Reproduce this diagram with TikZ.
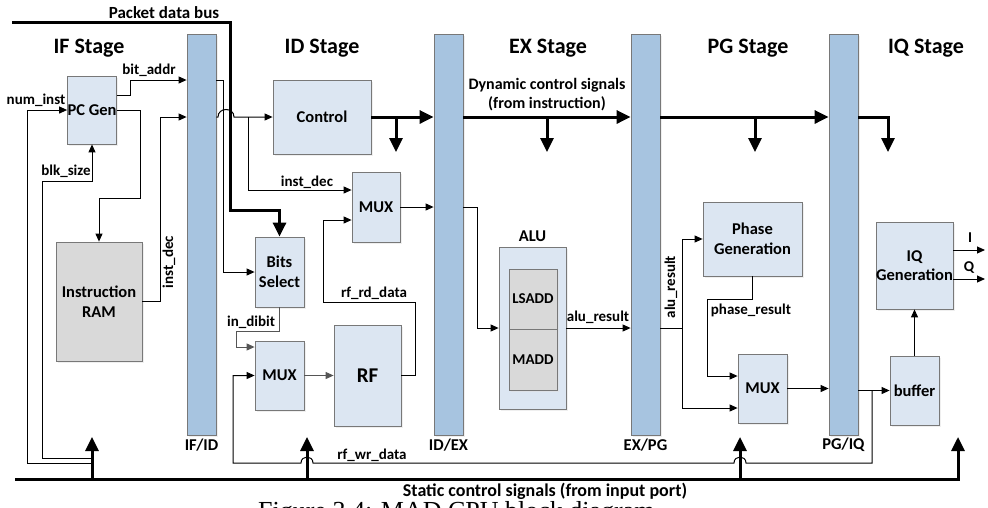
\documentclass[tikz,border=0pt]{standalone}
\usepackage{fontspec}
\setmainfont{Carlito}
\newfontfamily\capfont{Liberation Serif}
\usetikzlibrary{arrows.meta,shadows}
\definecolor{regblue}{RGB}{167,196,224}
\definecolor{blkfill}{RGB}{220,230,242}
\definecolor{blkline}{RGB}{120,120,120}
\definecolor{ramgray}{RGB}{217,217,217}
\definecolor{dibitgray}{RGB}{85,85,85}
\newcommand{\sigfont}{\bfseries\fontsize{15}{16}\selectfont}
\newcommand{\blkfont}{\bfseries\fontsize{16.5}{19.5}\selectfont}
\newcommand{\stagefont}{\bfseries\fontsize{22}{24}\selectfont}
\tikzset{sig/.style={line width=1pt,-{Triangle[length=8pt,width=7pt]}},
 bus/.style={line width=3pt},
 busarrow/.style={line width=3pt,-{Triangle[length=14pt,width=13pt]}},
 blk/.style={draw=blkline,fill=blkfill,line width=0.8pt,inner sep=0pt,font=\blkfont,align=center,
  drop shadow={shadow xshift=1.5pt,shadow yshift=-1.5pt,fill=black!12}},
 reg/.style={blk,fill=regblue,minimum width=29pt,minimum height=401pt},
 siglbl/.style={font=\sigfont,inner sep=0pt},
 every picture/.style={line join=miter}}
\begin{document}
\begin{tikzpicture}[x=1pt,y=-1pt]
\useasboundingbox (0,0) rectangle (988,507);
% pipeline registers
\node[reg] (ifid) at (201.5,234.5) {};
\node[reg] (idex) at (448.5,234.5) {};
\node[reg] (expg) at (645.5,234.5) {};
\node[reg] (pgiq) at (843.5,234.5) {};
\node[font=\blkfont] (ifidlbl) at (201.5,445) {IF/ID};
\node[font=\blkfont] (idexlbl) at (448.5,445) {ID/EX};
\node[font=\blkfont] (expglbl) at (645.5,445) {EX/PG};
\node[font=\blkfont] (pgiqlbl) at (843.5,445) {PG/IQ};
% stage titles
\node[font=\stagefont] (ifst) at (89,48) {IF Stage};
\node[font=\stagefont] (idst) at (322,48) {ID Stage};
\node[font=\stagefont] (exst) at (548,48) {EX Stage};
\node[font=\stagefont] (pgst) at (748,48) {PG Stage};
\node[font=\stagefont] (iqst) at (926,48) {IQ Stage};
% blocks
\node[blk,minimum width=48pt,minimum height=68pt] (pcgen) at (92,110) {PC Gen};
\node[blk,fill=ramgray,minimum width=86pt,minimum height=119pt] (iram) at (99,301.5) {Instruction\\RAM};
\node[blk,minimum width=98pt,minimum height=74pt] (control) at (322,117) {Control};
\node[blk,minimum width=48pt,minimum height=70pt] (muxa) at (376,207) {MUX};
\node[blk,minimum width=49pt,minimum height=70pt] (bitsel) at (279.5,272) {Bits\\Select};
\node[blk,minimum width=49pt,minimum height=69pt] (muxb) at (279.5,375.5) {MUX};
\node[blk,minimum width=67pt,minimum height=101pt,font=\bfseries\fontsize{21}{22}\selectfont] (rf) at (367.5,375.5) {RF};
\node[blk,minimum width=67pt,minimum height=162pt] (alu) at (532.5,328) {};
\node[font=\blkfont] (alulbl) at (532.5,236) {ALU};
\node[blk,fill=ramgray,minimum width=48pt,minimum height=60pt,font=\bfseries\fontsize{15}{16}\selectfont] (lsadd) at (533,299) {LSADD};
\node[blk,fill=ramgray,minimum width=48pt,minimum height=61pt,font=\bfseries\fontsize{15}{16}\selectfont] (madd) at (533,359.5) {MADD};
\node[blk,minimum width=99pt,minimum height=74pt] (phase) at (752.5,239) {Phase\\Generation};
\node[blk,minimum width=49pt,minimum height=69pt] (muxc) at (762.5,388.5) {MUX};
\node[blk,minimum width=49pt,minimum height=69pt] (buffer) at (914.5,390.5) {buffer};
\node[blk,minimum width=77pt,minimum height=87pt] (iqgen) at (914.5,265.5) {IQ\\Generation};
% packet data bus
\coordinate (pkt) at (12,22);
\draw[busarrow] (pkt) -| (230,210) -| (bitsel.north);
\node[font=\bfseries\fontsize{17}{18}\selectfont] (pktlbl) at (164,13) {Packet data bus};
% static control bus
\coordinate (sbl) at (15,479);
\coordinate (sa) at (92,479);
\coordinate (sb) at (307,479);
\coordinate (sc) at (740,479);
\coordinate (sd) at (958,479);
\draw[busarrow] (sbl) -| ([yshift=42pt]sd);
\foreach \s in {sa,sb,sc} \draw[busarrow] (\s) -- ++(0,-42);
\node[font=\bfseries\fontsize{18}{19}\selectfont] (stlbl) at (545,491) {Static control signals (from input port)};
% dynamic control signals
\coordinate (dca) at (396,117);
\coordinate (dcb) at (547,117);
\coordinate (dcc) at (755,117);
\draw[busarrow] (control.east) -- (idex.west |- control.east);
\draw[busarrow] (idex.east |- control.east) -- (expg.west |- control.east);
\draw[busarrow] (expg.east |- control.east) -- (pgiq.west |- control.east);
\draw[busarrow] (pgiq.east |- control.east) -| (888,152);
\foreach \d in {dca,dcb,dcc} \draw[busarrow] (\d) -- ++(0,35);
\node[font=\bfseries\fontsize{16}{19}\selectfont,align=center] (dynlbl) at (547,95) {Dynamic control signals\\(from instruction)};
% IF stage
\draw[sig] ([yshift=16pt]sa) -| (27,110) -- (pcgen.west);
\draw[sig] ([yshift=21pt]sa) -| (42,181) -| (pcgen.south);
\draw[sig] ([yshift=15pt]pcgen.east) -| (130,80) -- (ifid.west |- 0,80);
\draw[sig] (pcgen.east) -| (140,198) -| (iram.north);
\draw[sig] (iram.east) -| (160,117) -- (ifid.west |- 0,117);
\node[siglbl] (numlbl) at (36,100) {num\_inst};
\node[siglbl] (blklbl) at (66,171) {blk\_size};
\node[siglbl] (balbl) at (149,70) {bit\_addr};
\node[siglbl,rotate=90] (idlbla) at (169,262) {inst\_dec};
% ID stage
\coordinate (jdec) at (248,117);
\draw[sig] (ifid.east |- 0,80) -| (223,272) -- (bitsel.west);
\draw[sig] (ifid.east |- 0,117) -- (218,117) .. controls (218,107) and (234,107) .. (234,117) -- (control.west);
\draw[sig] (jdec) |- ([yshift=17pt]muxa.west);
\draw[sig] (muxa.east) -- (idex.west |- muxa.east);
\draw[sig] (rf.east) -| (415,302) -| (323,220) -- ([yshift=-13pt]muxa.west);
\draw[sig,color=dibitgray] (bitsel.south) |- (236,331) |- ([yshift=28.5pt]muxb.west);
\draw[sig,color=dibitgray] (muxb.east) -- (rf.west);
\node[siglbl] (idlblb) at (307,182) {inst\_dec};
\node[siglbl] (rdlbl) at (374,293) {rf\_rd\_data};
\node[siglbl] (dblbl) at (251,322) {in\_dibit};
% write back
\coordinate (jwr) at (872,391);
\draw[sig] (jwr) -- (872,463) -- (746,463) .. controls (746,455) and (734,455) .. (734,463) -- (313,463) .. controls (313,455) and (301,455) .. (301,463) -- (233,463) |- (muxb.west);
\node[siglbl] (wrlbl) at (372,455) {rf\_wr\_data};
% EX stage
\draw[sig] (idex.east |- muxa.east) -| (477,328) -- (alu.west);
\draw[sig] (alu.east) -- (expg.west |- alu.east);
\node[siglbl] (alulbla) at (598,317) {alu\_result};
% PG stage
\coordinate (jalu) at (682,328);
\draw[sig] (expg.east |- alu.east) -| (682,239) -- (phase.west);
\draw[sig] (jalu) |- ([yshift=-19.5pt]muxc.west);
\draw[sig] (phase.south) |- (707,299) |- ([yshift=12.5pt]muxc.west);
\draw[sig] (muxc.east) -- (pgiq.west |- muxc.east);
\node[siglbl,rotate=90] (alulblb) at (671,287) {alu\_result};
\node[siglbl] (phlbl) at (751,310) {phase\_result};
% IQ stage
\coordinate (iout) at (985,250);
\coordinate (qout) at (985,279);
\draw[sig] (pgiq.east |- buffer.west) -- (buffer.west);
\draw[sig] (buffer.north) -- (iqgen.south);
\draw[sig] ([yshift=15.5pt]iqgen.east) -- (iout);
\draw[sig] ([yshift=-13.5pt]iqgen.east) -- (qout);
\node[siglbl] (ilbl) at (970,238) {I};
\node[siglbl] (qlbl) at (969,268) {Q};
% caption, cut by the page edge
\node[anchor=base west,inner sep=0pt,font=\capfont\fontsize{26}{28}\selectfont] (cap) at (258,519) {Figure 3.4: MAD CPU block diagram};
\end{tikzpicture}
\end{document}
